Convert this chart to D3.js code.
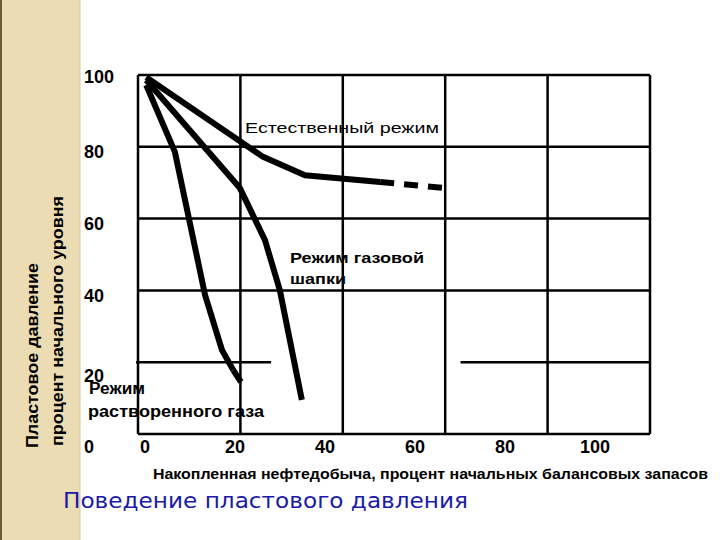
<!DOCTYPE html>
<html><head><meta charset="utf-8">
<script src="https://cdn.jsdelivr.net/npm/d3@7"></script>
<style>body{margin:0;background:#fff}</style></head>
<body><svg id="c" width="720" height="540"></svg>
<script>
const xTicks=[0,20,40,60,80,100];
const yTicks=[0,20,40,60,80,100];
const natural=[[1.6,99.4],[24.2,77.4],[32.6,72.1],[47.3,70.2]];
const naturalDash=[[47.3,70.2],[60,68.5]];
const gasCap=[[1.6,98.6],[19.9,68.5],[24.8,54],[27.7,40.1],[32,9.5]];
const dissolved=[[1.6,97.2],[7.2,78.6],[13.1,38.7],[16.4,23.4],[18.6,17.8]];
const dissolvedDash=[[18.6,17.8],[20.9,12.8]];

const svg=d3.select("#c");
const x=d3.scaleLinear().domain([0,100]).range([138,650]);
const y=d3.scaleLinear().domain([0,100]).range([434,75]);
const xl=d3.scaleLinear().domain([0,100]).range([145,595]);
const F="Liberation Sans, Arial, sans-serif";

svg.append("rect").attr("x",0).attr("y",0).attr("width",80).attr("height",540).attr("fill","#ecdcb4");
svg.append("line").attr("x1",1).attr("x2",1).attr("y1",0).attr("y2",540).attr("stroke","#6b5a3a").attr("stroke-width",2);
svg.append("line").attr("x1",80).attr("x2",80).attr("y1",0).attr("y2",540).attr("stroke","#d8c8a0").attr("stroke-width",1);

const g=svg.append("g");
xTicks.forEach(t=>g.append("line").attr("x1",x(t)).attr("x2",x(t)).attr("y1",y(100)).attr("y2",y(0)).attr("stroke","#000").attr("stroke-width",2.5));
yTicks.forEach(t=>{
  if(t===20){
    g.append("line").attr("x1",x(0)-2).attr("x2",x(26)).attr("y1",y(t)).attr("y2",y(t)).attr("stroke","#000").attr("stroke-width",2.5);
    g.append("line").attr("x1",x(63)).attr("x2",x(100)).attr("y1",y(t)).attr("y2",y(t)).attr("stroke","#000").attr("stroke-width",2.5);
  } else g.append("line").attr("x1",x(0)).attr("x2",x(100)).attr("y1",y(t)).attr("y2",y(t)).attr("stroke","#000").attr("stroke-width",2.5);
});

const line=d3.line().x(d=>x(d[0])).y(d=>y(d[1])).curve(d3.curveLinear);
[natural,gasCap,dissolved].forEach(d=>svg.append("path").attr("d",line(d)).attr("fill","none").attr("stroke","#000").attr("stroke-width",6).attr("stroke-linejoin","round"));
[naturalDash,dissolvedDash].forEach(d=>svg.append("path").attr("d",line(d)).attr("fill","none").attr("stroke","#000").attr("stroke-width",6).attr("stroke-dasharray","14,10"));

const yPos={100:83,80:158,60:230,40:302,20:382,0:453};
yTicks.forEach(t=>svg.append("text").attr("x",84).attr("y",yPos[t]).text(t).attr("font-family",F).attr("font-weight","bold").attr("font-size",18));
xTicks.forEach(t=>svg.append("text").attr("x",xl(t)).attr("y",453).attr("text-anchor","middle").text(t).attr("font-family",F).attr("font-weight","bold").attr("font-size",18));

const lab=(tx,px,py,sz,len)=>svg.append("text").attr("x",px).attr("y",py).text(tx).attr("font-family",F).attr("font-size",sz).attr("fill","#000").attr("textLength",len).attr("lengthAdjust","spacingAndGlyphs");
lab("Естественный режим",245,133,15,194);
lab("Режим газовой",290,263,15,134).attr("font-weight","bold");
lab("шапки",290,284,15,56).attr("font-weight","bold");
lab("Режим",89,394,16,56).attr("font-weight","bold");
lab("растворенного газа",88,417,16,176).attr("font-weight","bold");
lab("Накопленная нефтедобыча, процент начальных балансовых запасов",153,479,14,555).attr("font-weight","bold");
svg.append("text").attr("x",63).attr("y",508).text("Поведение пластового давления").attr("font-family","DejaVu Sans, sans-serif").attr("font-size",22).attr("fill","#1a1aa8").attr("textLength",405).attr("lengthAdjust","spacingAndGlyphs");

svg.append("text").attr("transform","translate(38,448) rotate(-90)").text("Пластовое давление").attr("font-family",F).attr("font-weight","bold").attr("font-size",16).attr("textLength",185).attr("lengthAdjust","spacingAndGlyphs");
svg.append("text").attr("transform","translate(63,446) rotate(-90)").text("процент начального уровня").attr("font-family",F).attr("font-weight","bold").attr("font-size",16).attr("textLength",250).attr("lengthAdjust","spacingAndGlyphs");
</script></body></html>
